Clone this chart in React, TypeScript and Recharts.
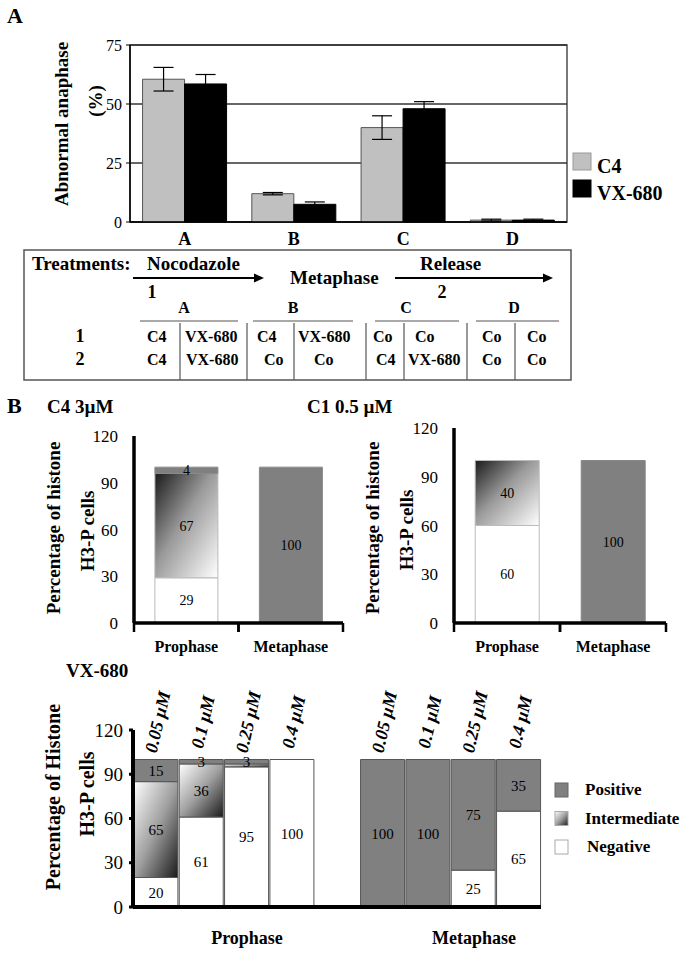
import React from 'react';
import { BarChart, Bar, XAxis, YAxis, CartesianGrid, ErrorBar, ReferenceArea, LabelList } from 'recharts';

const SERIF = '"Liberation Serif", "Times New Roman", Times, serif';

// ---------- Panel A data ----------
const treatmentGroups = ['A', 'B', 'C', 'D'];
const c4Means = [60.5, 12, 40, 0.8];
const c4Errors = [5, 0.5, 5, 0.4];
const vx680Means = [58.5, 7.5, 48, 0.8];
const vx680Errors = [4, 1, 3, 0.4];
const panelATicks = [0, 25, 50, 75];
const panelASeries = ['C4', 'VX-680'];

// ---------- Treatment table ----------
const tableTitle = 'Treatments:';
const stepNames = ['Nocodazole', 'Metaphase', 'Release'];
const stepNumbers = ['1', '2'];
const tableRowLabels = ['1', '2'];
const tableRow1 = ['C4', 'VX-680', 'C4', 'VX-680', 'Co', 'Co', 'Co', 'Co'];
const tableRow2 = ['C4', 'VX-680', 'Co', 'Co', 'C4', 'VX-680', 'Co', 'Co'];

// ---------- Panel B data ----------
const phases = ['Prophase', 'Metaphase'];
const c4Negative = [29, null];
const c4Intermediate = [67, null];
const c4Positive = [4, 100];
const c1Negative = [60, null];
const c1Intermediate = [40, null];
const c1Positive = [null, 100];
const bTicks = [0, 30, 60, 90, 120];

const vxDoses = ['0.05 µM', '0.1 µM', '0.25 µM', '0.4 µM', '', '0.05 µM', '0.1 µM', '0.25 µM', '0.4 µM'];
const vxNegative = [20, 61, 95, 100, null, null, null, 25, 65];
const vxIntermediate = [65, 36, 2, null, null, null, null, null, null];
const vxPositive = [15, 3, 3, null, null, 100, 100, 75, 35];
const vxPhaseGroups = ['Prophase', 'Metaphase'];
const stateNames = ['Positive', 'Intermediate', 'Negative'];

// ---------- layout constants (not data) ----------
const rowX1 = [147, 185, 257, 298, 373, 415, 482, 527];
const rowX2 = [147, 186, 264, 314, 376, 408, 482, 527];
const groupCenters = [184, 293, 406, 514];
const groupLines = [[140, 238], [253, 353], [375, 459], [476, 559]];
const cellDividers = [180, 247, 294, 366, 404, 467, 515];

const POS_FILL = '#808080';

const VX_H = 275;
const VX_MARGIN = { top: 50, right: 139, bottom: 47, left: 93 };
const VX_PLOT_H = VX_H - VX_MARGIN.top - VX_MARGIN.bottom;

const labelFmt = (v: any) => (v != null && v >= 3 ? String(v) : '');

function PanelA() {
  const data = treatmentGroups.map((g, i) => ({
    group: g,
    c4: c4Means[i],
    c4Err: c4Errors[i],
    vx: vx680Means[i],
    vxErr: vx680Errors[i],
  }));
  return (
    <div style={{ position: 'absolute', left: 0, top: 0 }}>
      <BarChart width={680} height={260} data={data} margin={{ top: 45, right: 113, bottom: 8, left: 90 }} barCategoryGap="11.5%" barGap={0}>
        <CartesianGrid vertical={false} stroke="#333" strokeWidth={1.3} />
        <XAxis dataKey="group" axisLine={{ stroke: '#000', strokeWidth: 1.5 }} tickLine={false} tickSize={4} tickMargin={6} height={30}
          tick={{ fontFamily: SERIF, fontSize: 18, fontWeight: 'bold', fill: '#000' }} />
        <YAxis domain={[0, 75]} ticks={panelATicks} width={40} axisLine={{ stroke: '#000', strokeWidth: 1.5 }} tickLine={{ stroke: '#000' }}
          tickSize={4} tickMargin={4} tick={{ fontFamily: SERIF, fontSize: 16, fill: '#000' }} />
        <ReferenceArea y1={0} y2={75} fill="none" fillOpacity={0} stroke="#333" strokeWidth={1.3} />
        <Bar dataKey="c4" name="C4" fill="#c0c0c0" stroke="#555" strokeWidth={1} isAnimationActive={false}>
          <ErrorBar dataKey="c4Err" width={10} stroke="#000" strokeWidth={1.2} direction="y" />
        </Bar>
        <Bar dataKey="vx" name="VX-680" fill="#000" stroke="#000" strokeWidth={1} isAnimationActive={false}>
          <ErrorBar dataKey="vxErr" width={10} stroke="#000" strokeWidth={1.2} direction="y" />
        </Bar>
      </BarChart>
    </div>
  );
}

const PhaseTick = (props: any) => {
  const { x, y, payload, width, visibleTicksCount } = props;
  const half = payload && payload.offset ? payload.offset : (width && visibleTicksCount ? width / visibleTicksCount / 2 : 0);
  const axisY = y - 18;
  return (
    <g>
      <line x1={x - half} x2={x - half} y1={axisY} y2={axisY + 9} stroke="#000" strokeWidth={2.5} />
      <line x1={x + half} x2={x + half} y1={axisY} y2={axisY + 9} stroke="#000" strokeWidth={2.5} />
      <text x={x} y={y + 11} textAnchor="middle" fontFamily={SERIF} fontSize={16} fontWeight="bold" fill="#000">{payload.value}</text>
    </g>
  );
};

function StackChart(props: any) {
  const { left, top, width, height, margin, neg, inter, pos, gradId } = props;
  const data = phases.map((p, i) => ({ phase: p, neg: neg[i], inter: inter[i], pos: pos[i] }));
  return (
    <div style={{ position: 'absolute', left, top }}>
      <BarChart width={width} height={height} data={data} margin={margin} barCategoryGap="20%">
        <defs>
          <linearGradient id={gradId} x1="0" y1="0" x2="1" y2="1">
            <stop offset="0" stopColor="#1a1a1a" />
            <stop offset="0.45" stopColor="#9a9a9a" />
            <stop offset="1" stopColor="#ffffff" />
          </linearGradient>
        </defs>
        <XAxis dataKey="phase" axisLine={{ stroke: '#000', strokeWidth: 3.5 }} tickLine={false} tickSize={8} tickMargin={10} height={40} tick={<PhaseTick />} interval={0} />
        <YAxis domain={[0, 120]} ticks={bTicks} width={40} axisLine={{ stroke: '#000', strokeWidth: 3.5 }} tickLine={false} tickSize={8} tickMargin={8}
          tick={{ fontFamily: SERIF, fontSize: 17, fill: '#000' }} />
        <Bar dataKey="neg" stackId="s" fill="#fff" stroke="#bbb" strokeWidth={1} isAnimationActive={false}>
          <LabelList dataKey="neg" position="center" formatter={labelFmt} fill="#000" fontSize={14} fontFamily={SERIF} />
        </Bar>
        <Bar dataKey="inter" stackId="s" fill={`url(#${gradId})`} stroke="#bbb" strokeWidth={1} isAnimationActive={false}>
          <LabelList dataKey="inter" position="center" formatter={labelFmt} fill="#000" fontSize={14} fontFamily={SERIF} />
        </Bar>
        <Bar dataKey="pos" stackId="s" fill={POS_FILL} stroke="#888" strokeWidth={1} isAnimationActive={false}>
          <LabelList dataKey="pos" position="center" formatter={labelFmt} fill="#000" fontSize={14} fontFamily={SERIF} />
        </Bar>
      </BarChart>
    </div>
  );
}

// Dose labels are drawn by the bottom category axis, lifted above the plot.
const DoseTick = (props: any) => {
  const { x, y, payload } = props;
  const key = String(payload && payload.value != null ? payload.value : '');
  const idx = parseInt(key.replace('k', ''), 10);
  const label = Number.isFinite(idx) ? vxDoses[idx] : '';
  if (!label) return <g />;
  const cy = y - VX_PLOT_H - 9;
  return (
    <text transform={`translate(${x + 2},${cy}) rotate(-77)`} textAnchor="middle" dominantBaseline="central"
      fontFamily={SERIF} fontSize={18} fontWeight="bold" fontStyle="italic" fill="#000">{label}</text>
  );
};

function VxChart() {
  const data = vxDoses.map((d, i) => ({ key: `k${i}`, neg: vxNegative[i], inter: vxIntermediate[i], pos: vxPositive[i] }));
  return (
    <div style={{ position: 'absolute', left: 0, top: 680 }}>
      <BarChart width={680} height={VX_H} data={data} margin={VX_MARGIN} barCategoryGap="2%">
        <defs>
          <linearGradient id="vxGrad" x1="0" y1="0" x2="1" y2="1">
            <stop offset="0" stopColor="#ffffff" />
            <stop offset="0.5" stopColor="#a0a0a0" />
            <stop offset="1" stopColor="#1a1a1a" />
          </linearGradient>
        </defs>
        <XAxis dataKey="key" axisLine={{ stroke: '#000', strokeWidth: 4 }} tickLine={false} tickSize={1} tickMargin={1} height={1} interval={0} tick={<DoseTick />} />
        <YAxis domain={[0, 120]} ticks={bTicks} width={40} axisLine={{ stroke: '#000', strokeWidth: 4 }} tickLine={{ stroke: '#000', strokeWidth: 3 }} tickSize={4} tickMargin={6}
          tick={{ fontFamily: SERIF, fontSize: 19, fill: '#000' }} />
        <Bar dataKey="neg" name="Negative" stackId="s" fill="#fff" stroke="#555" strokeWidth={1} isAnimationActive={false}>
          <LabelList dataKey="neg" position="center" formatter={labelFmt} fill="#000" fontSize={15} fontFamily={SERIF} />
        </Bar>
        <Bar dataKey="inter" name="Intermediate" stackId="s" fill="url(#vxGrad)" stroke="#555" strokeWidth={1} isAnimationActive={false}>
          <LabelList dataKey="inter" position="center" formatter={labelFmt} fill="#000" fontSize={15} fontFamily={SERIF} />
        </Bar>
        <Bar dataKey="pos" name="Positive" stackId="s" fill={POS_FILL} stroke="#555" strokeWidth={1} isAnimationActive={false}>
          <LabelList dataKey="pos" position="center" formatter={labelFmt} fill="#000" fontSize={15} fontFamily={SERIF} />
        </Bar>
      </BarChart>
    </div>
  );
}

function RotLabel({ x, y, text, size = 19 }: any) {
  return (
    <text transform={`translate(${x},${y}) rotate(-90)`} textAnchor="middle" dy="0.35em" fontFamily={SERIF} fontSize={size} fontWeight="bold" fill="#000">{text}</text>
  );
}

function Overlay() {
  const bold = { fontFamily: SERIF, fontWeight: 'bold' as const, fill: '#000' };
  return (
    <svg width={680} height={955} style={{ position: 'absolute', left: 0, top: 0, pointerEvents: 'none' }}>
      <defs>
        <linearGradient id="vxLegGrad" x1="0" y1="0" x2="1" y2="1">
          <stop offset="0" stopColor="#ffffff" />
          <stop offset="0.5" stopColor="#a0a0a0" />
          <stop offset="1" stopColor="#1a1a1a" />
        </linearGradient>
      </defs>
      <text x={7} y={23} fontSize={22} {...bold}>A</text>
      <RotLabel x={61} y={124} text="Abnormal anaphase" />
      <RotLabel x={95} y={101} text="(%)" />

      {/* Panel A legend */}
      {panelASeries.map((name, i) => (
        <g key={name} transform={`translate(572, ${150 + i * 27})`}>
          <rect x={1} y={3} width={18} height={17} fill={i === 0 ? '#c0c0c0' : '#000'} stroke={i === 0 ? '#999' : '#000'} />
          <text x={25} y={23} fontSize={20} {...bold}>{name}</text>
        </g>
      ))}

      {/* treatment table */}
      <rect x={24} y={250} width={547} height={130} fill="none" stroke="#555" strokeWidth={1.5} />
      <text x={32} y={270} fontSize={19} {...bold}>{tableTitle}</text>
      <text x={147} y={270} fontSize={19} {...bold}>{stepNames[0]}</text>
      <text x={290} y={284} fontSize={19} {...bold}>{stepNames[1]}</text>
      <text x={420} y={270} fontSize={19} {...bold}>{stepNames[2]}</text>
      <line x1={133} y1={278} x2={256} y2={278} stroke="#000" strokeWidth={1.8} />
      <polygon points="254,273.5 264,278 254,282.5" fill="#000" />
      <line x1={395} y1={278} x2={545} y2={278} stroke="#000" strokeWidth={1.8} />
      <polygon points="543,273.5 553,278 543,282.5" fill="#000" />
      <text x={152} y={298} textAnchor="middle" fontSize={18} {...bold}>{stepNumbers[0]}</text>
      <text x={442} y={298} textAnchor="middle" fontSize={18} {...bold}>{stepNumbers[1]}</text>
      {treatmentGroups.map((g, i) => (
        <text key={g} x={groupCenters[i]} y={313} textAnchor="middle" fontSize={16} {...bold}>{g}</text>
      ))}
      {groupLines.map((l, i) => (
        <line key={i} x1={l[0]} x2={l[1]} y1={321} y2={321} stroke="#555" strokeWidth={1.2} />
      ))}
      {cellDividers.map((x, i) => (
        <line key={i} x1={x} x2={x} y1={323} y2={380} stroke="#555" strokeWidth={1.2} />
      ))}
      {tableRowLabels.map((r, i) => (
        <text key={r} x={80} y={i === 0 ? 342 : 365} textAnchor="middle" fontSize={18} {...bold}>{r}</text>
      ))}
      {tableRow1.map((t, i) => (
        <text key={`r1${i}`} x={rowX1[i]} y={342} fontSize={16} {...bold}>{t}</text>
      ))}
      {tableRow2.map((t, i) => (
        <text key={`r2${i}`} x={rowX2[i]} y={365} fontSize={16} {...bold}>{t}</text>
      ))}

      {/* panel B */}
      <text x={7} y={413} fontSize={22} {...bold}>B</text>
      <text x={47} y={413} fontSize={19} {...bold}>C4 3µM</text>
      <text x={307} y={413} fontSize={19} {...bold}>C1 0.5 µM</text>
      <RotLabel x={53} y={528} text="Percentage of histone" />
      <RotLabel x={87} y={531} text="H3-P cells" />
      <RotLabel x={372} y={528} text="Percentage of histone" />
      <RotLabel x={406} y={530} text="H3-P cells" />

      <text x={66} y={677} fontSize={19} {...bold}>VX-680</text>
      <RotLabel x={53} y={797} text="Percentage of Histone" size={20} />
      <RotLabel x={87} y={794} text="H3-P cells" size={20} />
      <text x={247} y={944} textAnchor="middle" fontSize={18} {...bold}>{vxPhaseGroups[0]}</text>
      <text x={474} y={944} textAnchor="middle" fontSize={18} {...bold}>{vxPhaseGroups[1]}</text>

      {/* VX legend */}
      {stateNames.map((name, i) => (
        <g key={name} transform={`translate(553, ${780 + i * 28.5})`}>
          <rect x={2} y={3} width={13} height={14} fill={i === 0 ? POS_FILL : i === 1 ? 'url(#vxLegGrad)' : '#fff'} stroke={i === 0 ? '#666' : '#aaa'} />
          <text x={i === 2 ? 34 : 32} y={15} fontSize={17} {...bold}>{name}</text>
        </g>
      ))}
    </svg>
  );
}

export default function App() {
  return (
    <div style={{ position: 'absolute', left: 0, top: 0, width: 680, height: 955, background: '#fff', overflow: 'hidden' }}>
      <PanelA />
      <StackChart left={0} top={410} width={350} height={260} margin={{ top: 26, right: 7, bottom: 7, left: 94 }}
        neg={c4Negative} inter={c4Intermediate} pos={c4Positive} gradId="gradC4" />
      <StackChart left={320} top={400} width={350} height={270} margin={{ top: 28, right: 4, bottom: 7, left: 94 }}
        neg={c1Negative} inter={c1Intermediate} pos={c1Positive} gradId="gradC1" />
      <VxChart />
      <Overlay />
    </div>
  );
}
